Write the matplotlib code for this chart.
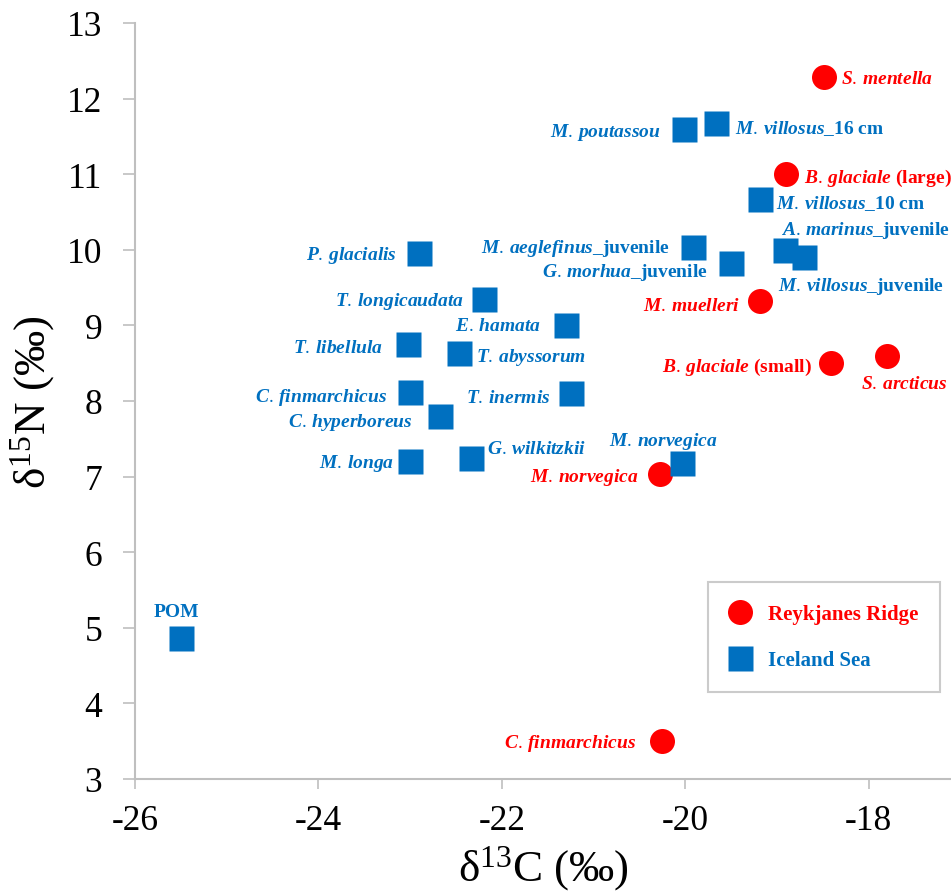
import matplotlib
matplotlib.use("Agg")
import matplotlib.pyplot as plt

# ─────────── data ───────────────────────────────────────────────────────
# Iceland Sea (blue squares)
ice_italic = ["", "P. glacialis", "T. longicaudata", "E. hamata", "T. libellula",
              "T. abyssorum", "C. finmarchicus", "T. inermis", "C. hyperboreus",
              "M. longa", "G. wilkitzkii", "M. norvegica", "M. poutassou",
              "M. villosus", "M. villosus", "M. aeglefinus", "G. morhua",
              "A. marinus", "M. villosus"]
ice_suffix = ["POM", "", "", "", "", "", "", "", "", "", "", "", "",
              "_16 cm", "_10 cm", "_juvenile", "_juvenile", "_juvenile", "_juvenile"]
ice_c13 = [-25.5, -22.9, -22.19, -21.3, -23.02, -22.47, -23.0, -21.25, -22.67,
           -23.0, -22.34, -20.03, -20.01, -19.66, -19.18, -19.92, -19.5, -18.91, -18.7]
ice_n15 = [4.86, 9.96, 9.35, 9.01, 8.76, 8.64, 8.12, 8.10, 7.80,
           7.21, 7.25, 7.18, 11.6, 11.68, 10.67, 10.04, 9.82, 10.0, 9.91]

# Reykjanes Ridge (red circles)
rey_italic = ["S. mentella", "B. glaciale", "M. muelleri", "B. glaciale",
              "S. arcticus", "M. norvegica", "C. finmarchicus"]
rey_suffix = ["", " (large)", "", " (small)", "", "", ""]
rey_c13 = [-18.49, -18.9, -19.18, -18.41, -17.8, -20.27, -20.25]
rey_n15 = [12.29, 11.0, 9.32, 8.5, 8.6, 7.04, 3.5]

# label placement: (dx px, dy px, ha)
ice_off = [(-4, 27, "center"), (-22, -2, "right"), (-20, -2, "right"), (-25, -1, "right"),
           (-25, -4, "right"), (17, -4, "left"), (-23, -5, "right"), (-20, -4, "right"),
           (-28, -5, "right"), (-16, -2, "right"), (16, 9, "left"), (-19, 22, "center"),
           (-24, -3, "right"), (19, -5, "left"), (16, -3, "left"), (-23, -1, "right"),
           (-23, -8, "right"), (-4, 20, "left"), (-26, -29, "left")]
rey_off = [(17, -2, "left"), (18, -3, "left"), (-20, -4, "right"), (-19, -3, "right"),
           (61, -28, "right"), (-22, -3, "right"), (-26, -1, "right")]

RED = "#FF0000"
BLUE = "#0070C0"
GREY = "#BFBFBF"

plt.rcParams["font.family"] = ["Liberation Serif", "DejaVu Serif"]
plt.rcParams["axes.unicode_minus"] = False
plt.rcParams["mathtext.fontset"] = "custom"
plt.rcParams["mathtext.rm"] = "Liberation Serif"
plt.rcParams["mathtext.it"] = "Liberation Serif:italic:bold"
plt.rcParams["mathtext.bf"] = "Liberation Serif:bold"


def make_label(it, suffix):
    if not it:
        return suffix
    return r"$\mathit{" + it.replace(" ", r"\,") + "}$" + suffix


fig = plt.figure(figsize=(9.51, 8.95), dpi=100)
ax = fig.add_axes([135 / 951, 115 / 895, 816 / 951, 756 / 895])

ax.plot(rey_c13, rey_n15, "o", ms=18, color=RED, mec="none",
        label="Reykjanes Ridge", zorder=3)
ax.plot(ice_c13, ice_n15, "s", ms=18, color=BLUE, mec="none",
        label="Iceland Sea", zorder=4)

for it, suf, x, y, (dx, dy, ha) in zip(ice_italic, ice_suffix, ice_c13, ice_n15, ice_off):
    ax.annotate(make_label(it, suf), (x, y), xytext=(dx, dy), textcoords="offset pixels",
                ha=ha, va="center", color=BLUE, fontsize=14, fontweight="bold",
                annotation_clip=False)
for it, suf, x, y, (dx, dy, ha) in zip(rey_italic, rey_suffix, rey_c13, rey_n15, rey_off):
    ax.annotate(make_label(it, suf), (x, y), xytext=(dx, dy), textcoords="offset pixels",
                ha=ha, va="center", color=RED, fontsize=14, fontweight="bold",
                annotation_clip=False)

ax.set_xlim(-26, -26 + 816 / 91.7)
ax.set_ylim(3, 13)
ax.set_xticks([-26, -24, -22, -20, -18])
ax.set_yticks(range(3, 14))

for s in ("top", "right"):
    ax.spines[s].set_visible(False)
for s in ("left", "bottom"):
    ax.spines[s].set_color(GREY)
    ax.spines[s].set_linewidth(1.5)
ax.tick_params(axis="both", colors=GREY, labelcolor="black", labelsize=25.5, width=1.2)
ax.tick_params(axis="x", length=7, pad=11)
ax.tick_params(axis="y", length=8.5, pad=15)

ax.set_xlabel(r"δ$^{\mathrm{13}}$C (‰)", fontsize=32.5)
ax.set_ylabel(r"δ$^{\mathrm{15}}$N (‰)", fontsize=32.5)
ax.xaxis.set_label_coords(0.5, -0.117)
ax.xaxis.label.set_verticalalignment("center")
ax.yaxis.set_label_coords(-0.125, 0.5)
ax.yaxis.label.set_verticalalignment("center")
ax.yaxis.label.set_horizontalalignment("center")

leg = ax.legend(loc="upper left", bbox_to_anchor=(0.702, 0.2606), borderaxespad=0,
                prop={"weight": "bold", "size": 15}, frameon=True, fancybox=False,
                borderpad=1.05, handlelength=1.0, handletextpad=0.85,
                labelspacing=1.25, numpoints=1)
leg.get_frame().set_edgecolor(GREY)
leg.get_frame().set_linewidth(1.5)
for txt, col in zip(leg.get_texts(), [RED, BLUE]):
    txt.set_color(col)

fig.savefig("out.png", dpi=100)
